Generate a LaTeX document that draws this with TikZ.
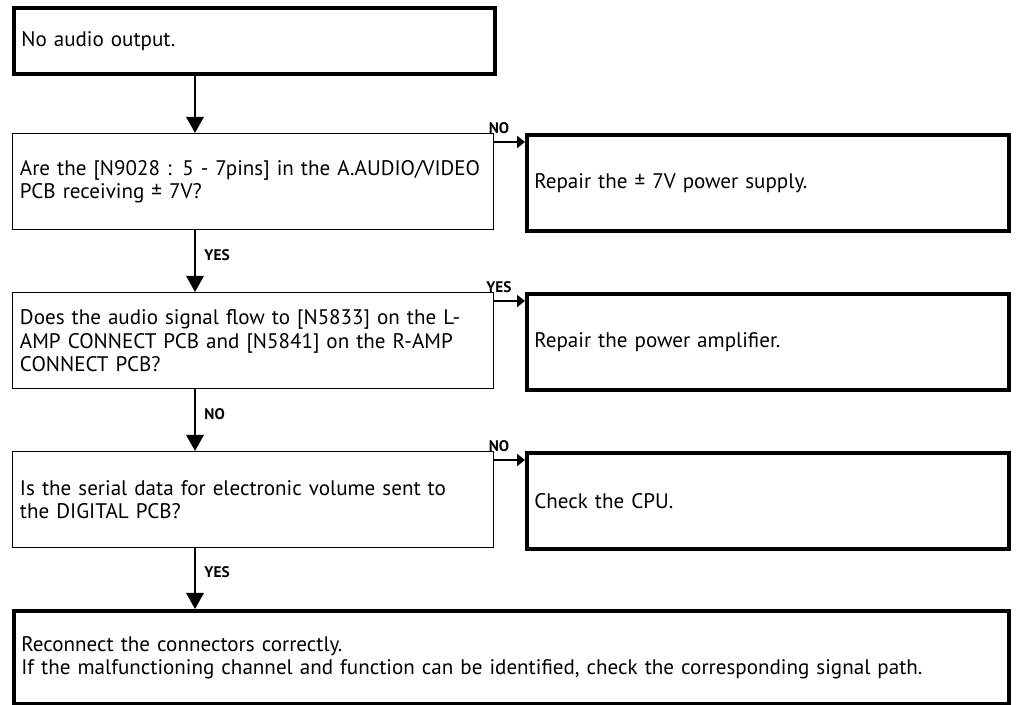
\documentclass[tikz,border=0pt]{standalone}
\usepackage{fontspec}
\setmainfont{PT Sans}
\usepackage{tikz}
\usetikzlibrary{arrows.meta,positioning}

\begin{document}
\begin{tikzpicture}[x=0.75pt, y=-0.75pt,
  box/.style={draw=black, anchor=north west, inner xsep=5.5pt, align=left, font=\fontsize{15.8}{17.5}\selectfont},
  startbox/.style={box, line width=3pt, text width=349.75pt, minimum height=49.5pt},
  askbox/.style={box, line width=1pt, text width=349.75pt, minimum height=72pt},
  fixbox/.style={box, line width=3pt, text width=350.5pt, minimum height=72pt},
  endbox/.style={box, line width=3pt, text width=735.25pt, minimum height=69.75pt},
  down/.style={line width=1.5pt, -{Triangle[length=12pt,width=13pt]}},
  side/.style={line width=1.5pt, -{Triangle[length=6pt,width=9pt]}},
  vtag/.style={right=3pt, pos=0.4, font=\bfseries\fontsize{11.5}{12}\selectfont},
  htag/.style={above=2pt, pos=0.15, font=\bfseries\fontsize{11.5}{12}\selectfont}]
  \useasboundingbox[fill=white] (0,0) rectangle (1018,705);
  \coordinate (spine) at (195,0);
  \node[startbox] (start) at (12,6) {No audio output.};
  \node[askbox] (askpower) at (12,133) {Are the [N9028 : 5 - 7pins] in the A.AUDIO/VIDEO\\PCB receiving ± 7V?};
  \node[fixbox] (fixpower) at (525,133) {Repair the ± 7V power supply.};
  \node[askbox] (askamp) at (12,292) {Does the audio signal flow to [N5833] on the L-\\AMP CONNECT PCB and [N5841] on the R-AMP\\CONNECT PCB?};
  \node[fixbox] (fixamp) at (525,292) {Repair the power amplifier.};
  \node[askbox] (askdata) at (12,451) {Is the serial data for electronic volume sent to\\the DIGITAL PCB?};
  \node[fixbox] (fixcpu) at (525,451) {Check the CPU.};
  \node[endbox] (reconnect) at (12,609) {Reconnect the connectors correctly.\\If the malfunctioning channel and function can be identified, check the corresponding signal path.};
  \draw[down] (start.south -| spine) -- (askpower.north -| spine);
  \draw[down] (askpower.south -| spine) -- node[vtag] {YES} (askamp.north -| spine);
  \draw[down] (askamp.south -| spine) -- node[vtag] {NO} (askdata.north -| spine);
  \draw[down] (askdata.south -| spine) -- node[vtag] {YES} (reconnect.north -| spine);
  \draw[side] ([yshift=-6.75pt]askpower.north east) -- node[htag] {NO} ([yshift=-6.75pt]fixpower.north west);
  \draw[side] ([yshift=-6.75pt]askamp.north east) -- node[htag] {YES} ([yshift=-6.75pt]fixamp.north west);
  \draw[side] ([yshift=-6.75pt]askdata.north east) -- node[htag] {NO} ([yshift=-6.75pt]fixcpu.north west);
\end{tikzpicture}
\end{document}
